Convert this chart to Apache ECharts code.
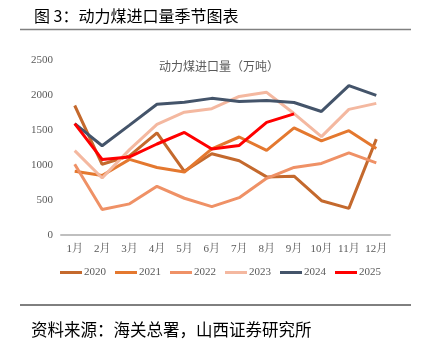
<!DOCTYPE html>
<html><head><meta charset="utf-8">
<script src="https://cdn.jsdelivr.net/npm/echarts@6/dist/echarts.min.js"></script>
<style>html,body{margin:0;padding:0;background:#fff}#c{width:421px;height:353px}</style>
</head><body><div id="c"></div>
<script>
const months = ['1月','2月','3月','4月','5月','6月','7月','8月','9月','10月','11月','12月'];
const yTicks = [0, 500, 1000, 1500, 2000, 2500];
const s2020 = [1850, 1010, 1130, 1460, 910, 1160, 1060, 830, 840, 490, 380, 1370];
const s2021 = [910, 850, 1080, 965, 900, 1230, 1400, 1210, 1530, 1345, 1490, 1235];
const s2022 = [1010, 365, 445, 695, 525, 405, 533, 810, 965, 1022, 1172, 1030];
const s2023 = [1205, 815, 1220, 1580, 1755, 1805, 1980, 2038, 1735, 1405, 1795, 1880];
const s2024 = [1590, 1275, 1570, 1868, 1895, 1952, 1908, 1920, 1893, 1765, 2135, 1995];
const s2025 = [1590, 1080, 1115, 1300, 1465, 1228, 1280, 1608, 1730];
const names = ['2020','2021','2022','2023','2024','2025'];
const colors = ['#C4692D','#E4782F','#EF9166','#F4B8A0','#44546A','#FF0000'];
const data = [s2020, s2021, s2022, s2023, s2024, s2025];

const serif = '"Liberation Serif","Noto Serif CJK SC","Noto Sans CJK SC",serif';
const chart = echarts.init(document.getElementById('c'), null, {renderer:'canvas'});
chart.setOption({
  animation: false,
  title: [
    {text: '图 3：动力煤进口量季节图表', left: 29, top: 3,
     textStyle: {fontFamily: '"Noto Sans CJK SC",sans-serif', fontSize: 16, fontWeight: 'normal', color: '#000'}},
    {text: '动力煤进口量（万吨）', top: 55, left: 154,
     textStyle: {fontFamily: '"Noto Sans CJK SC",sans-serif', fontSize: 12, fontWeight: 'normal', color: '#595959'}},
    {text: '资料来源：海关总署，山西证券研究所', left: 26, top: 316,
     textStyle: {fontFamily: '"Noto Sans CJK SC",sans-serif', fontSize: 16.5, fontWeight: 'normal', color: '#000'}}
  ],
  graphic: [
    {type: 'line', shape: {x1: 20, y1: 29.5, x2: 411, y2: 29.5}, style: {stroke: '#808080', lineWidth: 1.5}},
    {type: 'line', shape: {x1: 20, y1: 305, x2: 411, y2: 305}, style: {stroke: '#000', lineWidth: 1}}
  ],
  grid: {left: 61, right: 31, top: 60, bottom: 118},
  legend: {
    data: names, top: 267, left: 60, padding: 0,
    icon: 'rect', itemWidth: 22, itemHeight: 3, itemGap: 9,
    textStyle: {fontFamily: serif, fontSize: 11, color: '#595959', padding: [0,0,0,-3]}
  },
  xAxis: {
    type: 'category', data: months, boundaryGap: true,
    axisLine: {lineStyle: {color: '#BFBFBF', width: 2}},
    axisTick: {show: false},
    axisLabel: {fontFamily: serif, fontSize: 11, color: '#595959', margin: 9, interval: 0}
  },
  yAxis: {
    type: 'value', min: yTicks[0], max: yTicks[yTicks.length-1], interval: 500,
    axisLine: {show: false}, axisTick: {show: false}, splitLine: {show: false},
    axisLabel: {fontFamily: serif, fontSize: 11, color: '#595959', margin: 8, formatter: v => String(v)}
  },
  series: names.map((n, i) => ({
    name: n, type: 'line', data: data[i], showSymbol: false, symbol: 'none',
    color: colors[i], lineStyle: {width: 3, color: colors[i]}, z: 2 + i
  }))
});
</script></body></html>
